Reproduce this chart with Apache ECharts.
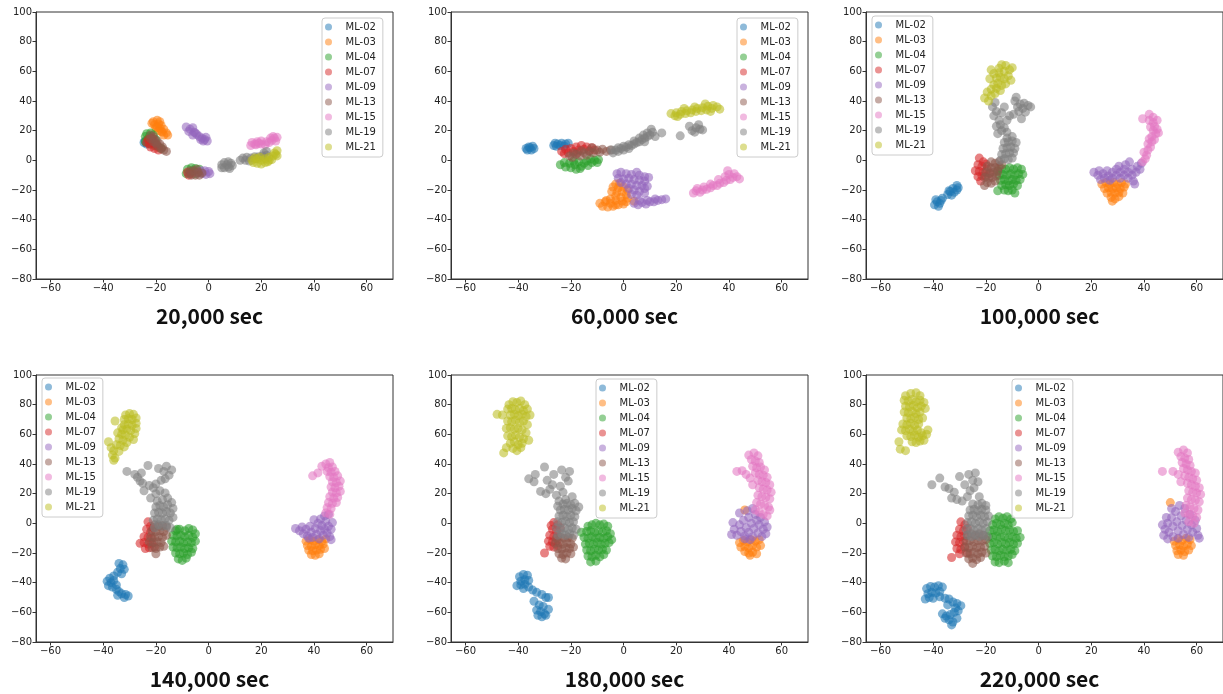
<!DOCTYPE html>
<html>
<head>
<meta charset="utf-8">
<script src="https://cdn.jsdelivr.net/npm/echarts@6/dist/echarts.min.js"></script>
<style>html,body{margin:0;padding:0;background:#fff;}#chart{width:1223px;height:694px;}</style>
</head>
<body>
<div id="chart"></div>
<script>
// ---------- labels ----------
const seriesNames = ['ML-02','ML-03','ML-04','ML-07','ML-09','ML-13','ML-15','ML-19','ML-21'];
const seriesColors = ['#1f77b4','#ff7f0e','#2ca02c','#d62728','#9467bd','#8c564b','#e377c2','#7f7f7f','#bcbd22'];
const panelTitles = ['20,000 sec','60,000 sec','100,000 sec','140,000 sec','180,000 sec','220,000 sec'];
const xTicks = [-60,-40,-20,0,20,40,60];
const yTicks = [-80,-60,-40,-20,0,20,40,60,80,100];

// ---------- 20,000 sec ----------
const s20_02 = [[-24,13],[-23.5,11],[-23,14],[-22,12],[-24.5,12]];
const s20_03 = [[-21,26],[-19.5,27],[-18.5,26],[-20.5,24],[-19,24.5],[-18,23.5],[-20,22],[-18.5,21.5],[-17,21],[-19,20],[-17.5,19],[-16,18.5],[-17,17],[-15.5,17],[-21.5,25],[-19.5,22.5],[-18,19.5]];
const s20_04 = [[-23.5,18],[-22,18.5],[-24,16],[-22.5,16],[-21,17],[-23,14],[-21.5,13.5],[-20,14],[-22,11],[-20.5,10],[-19,9],[-18,8],[-24,12.5],[-8,-6],[-6.5,-5],[-5,-5.5],[-3.5,-6],[-7,-8],[-8.5,-9],[-5,-9],[-6,-7]];
const s20_07 = [[-23,14],[-22.5,11],[-21,12],[-22,9],[-20.5,8],[-21.5,15],[-23.5,12],[-20,10.5],[-19,7],[-8,-8],[-7.5,-10],[-6.5,-9]];
const s20_09 = [[-8.5,22.5],[-7,21],[-6,22],[-7.5,19.5],[-5.5,19],[-4.5,17.5],[-6,17],[-3.5,16],[-2.5,15],[-1.5,14],[-0.5,13],[-3,14],[-1,15.5],[-5,18.5],[-2,13],[-3,-7],[-1.5,-7],[0,-7.5],[0.5,-9],[-1,-9.5],[-2.5,-9],[-4,-8.5]];
const s20_13 = [[-22,17],[-21,16],[-20.5,14],[-19.5,13],[-21,12.5],[-18.5,11],[-19.5,10],[-17.5,9],[-17,7],[-16,6],[-18,8],[-22,14.5],[-20,11.5],[-7,-7],[-5.5,-7],[-4,-8],[-6.5,-10],[-5,-10],[-3.5,-10],[-4.5,-6],[-7.5,-9],[-2.5,-8.5]];
const s20_15 = [[16,10],[16.5,12],[18,10.5],[18.5,12.5],[20,11],[20,13],[21.5,10.5],[22,12.5],[19,11.5],[17.5,11],[23,12],[24,13.5],[25,15],[23.5,15],[25.5,13],[26,15.5],[24.5,16]];
const s20_19 = [[5,-3],[6,-1.5],[7.5,-1],[8.5,-2],[9,-3.5],[7.5,-4.5],[6,-5],[5,-5],[7,-3],[8,-5.5],[12,0],[13,1.5],[14.5,2],[14,0],[16,1.5],[17.5,2.5],[19,2.5],[20.5,3],[22,3.5],[18,1],[21,5],[22,6],[15.5,-0.5]];
const s20_21 = [[16.5,0],[17,-1.5],[18.5,1],[18.5,-2],[20,0],[20,-2.5],[21.5,1],[21.5,-1.5],[23,2],[23,0],[24.5,3],[24,0.5],[25,5],[26,6.5],[25.5,4],[19.5,2],[22.5,-1],[17.5,1.5],[26,3]];

// ---------- 60,000 sec ----------
const s60_02 = [[-36.5,7],[-35.5,8.5],[-34.5,9.5],[-36,9],[-35,7],[-34,8],[-37,8],[-26.5,10],[-25,11],[-23.5,11.5],[-22,11],[-21,11.5],[-25.5,9.5],[-24,10],[-22.5,9.5],[-26,11.5]];
const s60_03 = [[-3,-16],[-1.5,-15.5],[-4,-18],[-2,-18.5],[0,-18],[1.5,-20],[-4.5,-21],[-2.5,-21.5],[-0.5,-21],[1,-23],[-3,-24],[-1,-25],[1.5,-25.5],[-5,-26],[-3,-27],[-0.5,-27.5],[1,-28],[-7,-28],[-5,-29],[-3,-30],[-9,-29],[-8,-31],[-6,-31.5],[-4,-31],[-2,-30],[0,-29.5],[-6.5,-27],[4,-27.5]];
const s60_04 = [[-24,-3],[-22.5,-1.5],[-22,-4.5],[-20.5,-2],[-20,-5],[-18.5,-3],[-18,-6],[-17,-1],[-16,-4],[-15,-2],[-14,-0.5],[-13.5,-3.5],[-12,-1.5],[-11,0],[-10,-1.5],[-9.5,0.5],[-19,-0.5],[-16.5,-5.5],[-12.5,1]];
const s60_07 = [[-23.5,6],[-22,7.5],[-21,5],[-20,8],[-19,6],[-18,9],[-17,7],[-16,10],[-15,7.5],[-14,9],[-13,6.5],[-12,8.5],[-11,7],[-22.5,4.5],[-17.5,5]];
const s60_09 = [[-2.5,-9],[-1,-8],[1,-9],[3,-9.5],[5,-8],[6,-10],[8,-11],[9.5,-11.5],[-2,-12],[0,-12.5],[2,-12],[4,-13],[6,-13.5],[8,-14],[-1,-15],[1,-16],[3,-16],[5,-17],[7,-17],[9,-17.5],[2,-19],[4,-20],[6,-21],[8,-19],[3,-23],[5,-23.5],[8,-22],[4,-29],[5.5,-30],[7,-28.5],[8.5,-29.5],[10,-28],[11.5,-28],[13,-27],[14.5,-26.5],[16,-26],[6,-27],[9,-27],[12,-26]];
const s60_13 = [[-20.5,3],[-19.5,2],[-18,4],[-16.5,3],[-15,5],[-14,3.5],[-13,6],[-11.5,5],[-10,7],[-9,5.5],[-8,7.5],[-6.5,6],[-5,7],[-12,8.5],[-19,5],[-16,6.5]];
const s60_15 = [[26.5,-22],[27.5,-20.5],[29,-21.5],[30,-20],[31.5,-19.5],[33,-18.5],[34,-17],[35.5,-17],[36.5,-15.5],[38,-15],[39,-13.5],[40.5,-13],[41.5,-11.5],[43,-11],[42,-9],[40,-9.5],[38.5,-11],[36,-13],[33,-16],[30.5,-18],[28,-19],[44,-12.5],[39.5,-7]];
const s60_19 = [[-4,5],[-3,7],[-2,6],[-1,8],[0,7],[1,9],[2,8],[3,10],[4,11],[5,12],[6,12.5],[7,14],[8,15],[9,16],[10,17],[11,19],[10.5,21],[9,18.5],[6,15],[4,13],[2,10.5],[0,9.5],[-2,8.5],[12,16],[8,12.5],[-4.5,7],[7.5,17],[14.5,18.5],[21.5,16.5],[26,20],[27.5,22],[29,21],[25,23],[28.5,24],[30,20.5],[27,19]];
const s60_21 = [[18,31.5],[19.5,30],[20,32],[21.5,31],[22,33],[23.5,31.5],[24,33.5],[25.5,32],[26,34],[27.5,33],[28,35],[29.5,33.5],[30,35.5],[31.5,34],[32,36.5],[33.5,35],[34,37],[35.5,36],[36.5,34.5],[31,38],[27,36],[23,35],[20.5,29.5],[33,33]];

// ---------- 100,000 sec ----------
const s100_02 = [[-39.5,-30],[-38.5,-28],[-38,-31],[-37,-27],[-37.5,-29],[-36.5,-25.5],[-39,-26.5],[-34.5,-23],[-33.5,-21],[-33,-23.5],[-32.5,-19],[-32,-21.5],[-31,-17],[-31,-20],[-34,-20.5],[-30.5,-18.5]];
const s100_03 = [[24,-16],[25.5,-15],[27,-16],[28.5,-15],[30,-16],[31.5,-15],[33,-16],[25,-19],[26.5,-18.5],[28,-19],[29.5,-18.5],[31,-19],[32.5,-18],[26,-22],[27.5,-21.5],[29,-22],[30.5,-21.5],[32,-22],[27.5,-25],[29,-26],[30.5,-24.5],[28,-27.5]];
const s100_04 = [[-15.5,-7],[-14,-5.5],[-12.5,-6],[-11,-5],[-9.5,-6],[-8,-5],[-6.5,-6],[-15,-10],[-13.5,-9.5],[-12,-10],[-10.5,-9],[-9,-10],[-7.5,-9],[-6,-9.5],[-14.5,-13.5],[-13,-13],[-11.5,-14],[-10,-13],[-8.5,-13.5],[-7,-13],[-14,-17],[-12.5,-16.5],[-11,-17],[-9.5,-16],[-8,-17],[-13,-20],[-11.5,-20.5],[-10,-20],[-15.5,-20.5],[-9,-22]];
const s100_07 = [[-22.5,1.5],[-21,-1],[-23,-3],[-21.5,-4],[-20,-2.5],[-24,-7],[-22.5,-7.5],[-21,-8],[-19.5,-6],[-23,-11],[-21.5,-10.5],[-20,-11],[-22,-14],[-18.5,-9]];
const s100_09 = [[21,-8],[22.5,-10],[23,-7],[24.5,-9],[25,-12],[26,-7],[26.5,-10.5],[28,-8],[28,-12],[29.5,-6],[29.5,-10],[31,-8],[31,-12],[32.5,-6],[32.5,-10],[34,-8],[34,-12],[35.5,-6],[35.5,-10],[36,-14],[37,-8],[37.5,-4],[38.5,-6],[39,-2],[36.5,-16],[33,-3],[30.5,-4],[34.5,-1],[27,-13.5],[23.5,-13]];
const s100_13 = [[-18,-1],[-16.5,-2],[-15,-1],[-19.5,-4],[-18,-5],[-16.5,-5],[-15,-4.5],[-14,-3],[-20,-8],[-18.5,-8.5],[-17,-8],[-15.5,-7.5],[-20.5,-11.5],[-19,-12],[-17.5,-11.5],[-16,-10.5],[-19.5,-15],[-18,-15.5],[-16.5,-14],[-20.5,-17]];
const s100_15 = [[39.5,-1],[40.5,1],[41,3.5],[40,5.5],[41.5,7],[42.5,9],[41.5,11],[43,12.5],[44,14],[43,16],[44.5,18],[43.5,20],[45,21],[44,23],[42.5,22.5],[43.5,25.5],[42,27],[43.5,29],[42,31],[39.5,28],[45.5,18.5],[42,14.5],[45,27]];
const s100_19 = [[-14.5,0],[-13,1],[-11.5,0.5],[-10,1.5],[-14,4],[-12.5,4.5],[-11,5],[-9.5,5],[-13.5,8],[-12,8.5],[-10.5,9],[-9,8],[-13,12],[-11.5,12.5],[-10,13],[-8.5,12],[-12,15],[-10,16],[-15.5,18],[-14,20],[-12,19],[-16,23],[-14.5,24],[-13,22],[-15,27],[-17,30],[-16,33],[-14,32],[-17.5,36],[-16.5,39],[-13,36],[-11,30],[-12,27],[-9,40],[-8,36],[-7,38],[-6,35],[-5.5,38.5],[-4,37],[-3,36],[-7.5,33],[-5,32.5],[-9.5,31],[-6.5,28],[-8.5,42.5]];
const s100_21 = [[-20.5,42],[-19,40],[-18,43.5],[-16.5,45],[-19.5,46],[-18,48],[-16,48.5],[-14.5,47],[-17,51],[-15.5,52],[-14,50.5],[-12.5,51.5],[-18.5,55],[-16,55.5],[-14.5,56],[-13,55],[-11.5,57],[-17,58.5],[-15,59],[-13,60],[-11,61],[-15,62],[-12.5,64],[-10,62.5],[-14,64.5],[-18,61],[-10.5,54]];

// ---------- 140,000 sec ----------
const s140_02 = [[-34,-27],[-32.5,-28],[-33.5,-30.5],[-32,-31],[-34.5,-33],[-33,-34],[-36,-35.5],[-37.5,-37],[-38.5,-39],[-37,-40],[-36,-38.5],[-38,-42],[-36.5,-43],[-35,-44.5],[-34,-46],[-33,-47.5],[-31.5,-48],[-30.5,-49],[-32,-50],[-34.5,-48.5],[-35,-41.5]];
const s140_03 = [[37,-12],[38.5,-11],[40,-12],[41.5,-11],[43,-12],[44.5,-10.5],[37.5,-15],[39,-15.5],[40.5,-14.5],[42,-15],[43.5,-14],[38,-18],[39.5,-18.5],[41,-18],[42.5,-17.5],[44,-17],[39,-21],[40.5,-21.5],[42,-20.5]];
const s140_04 = [[-12.5,-5],[-11,-4],[-9,-5],[-7.5,-3.5],[-6,-4.5],[-5,-7],[-13.5,-8],[-12,-8.5],[-10.5,-8],[-9,-9],[-7.5,-8],[-6,-9.5],[-14,-12],[-12.5,-12.5],[-11,-12],[-9.5,-13],[-8,-12.5],[-6.5,-13],[-5,-12],[-13.5,-16],[-12,-16.5],[-10.5,-16],[-9,-17],[-7.5,-16.5],[-6,-17],[-12.5,-20],[-11,-20.5],[-9.5,-20],[-8,-21],[-6.5,-19.5],[-11.5,-24],[-10,-25],[-8.5,-23.5],[-12,-4]];
const s140_07 = [[-23,1],[-22,-2],[-23.5,-4],[-22,-6],[-24.5,-9],[-23,-9.5],[-21.5,-10],[-26,-13.5],[-24.5,-13],[-23,-14],[-21.5,-13.5],[-24,-17],[-22.5,-16.5],[-20.5,-16],[-21,-3]];
const s140_09 = [[33,-3.5],[34.5,-5],[35.5,-2.5],[36,-7],[37,-4],[37.5,-8.5],[38.5,-2],[39,-6],[39.5,-9.5],[40.5,-3.5],[41,-7.5],[41.5,0],[42,-10.5],[42.5,-5],[43,-1.5],[43.5,-8],[44,-4],[44.5,1.5],[45,-6.5],[45.5,-2],[46,-9],[46.5,-4],[47,0.5],[44,5],[42.5,3],[45.5,6],[46.5,-11],[40,2.5],[38,-10]];
const s140_13 = [[-20.5,-1],[-19,-2],[-17.5,-1.5],[-16,-2.5],[-21.5,-5],[-20,-5.5],[-18.5,-5],[-17,-5.5],[-22,-9],[-20.5,-9.5],[-19,-9],[-17.5,-9.5],[-16,-8],[-22.5,-12.5],[-21,-13],[-19.5,-12.5],[-18,-13],[-21.5,-16.5],[-20,-17],[-18.5,-16],[-20,-20.5],[-17,-15.5]];
const s140_15 = [[43,38.5],[44.5,40],[46,41],[45.5,37.5],[47,38],[45,35],[46.5,34.5],[48,35],[46,31.5],[47.5,31],[49,32],[47,28],[48.5,27.5],[50,28.5],[46.5,24.5],[48,24],[49.5,25],[47,21],[48.5,20.5],[50,21.5],[46,18],[47.5,17],[49,17.5],[45.5,14],[47,13.5],[48.5,14],[45,10.5],[46.5,10],[44.5,7],[46,6],[39.5,32],[41.5,34]];
const s140_19 = [[-20.5,-3],[-19,-1],[-17.5,-2],[-16,-1.5],[-14.5,-3],[-21,2],[-19.5,3],[-18,2.5],[-16.5,3],[-15,2],[-13.5,4],[-20.5,7],[-19,7.5],[-17.5,7],[-16,8],[-14.5,7],[-13.5,10],[-20,11],[-18.5,12],[-17,11],[-15.5,12.5],[-14,14],[-19.5,15],[-17.5,16],[-15.5,17],[-22,17],[-20,20],[-21,24],[-18.5,22],[-16.5,20.5],[-22.5,25.5],[-25,27],[-27,31],[-26,28.5],[-28,33],[-25.5,34],[-23,39],[-19,37],[-17,35],[-15,32.5],[-16.5,30],[-18,29],[-20,26.5],[-14,36],[-16,38.5],[-31,35],[-24.5,22]];
const s140_21 = [[-31.5,73],[-30,74],[-28.5,73.5],[-27.5,71],[-32,70],[-30.5,70.5],[-29,70],[-27.5,67.5],[-32,66.5],[-30.5,67],[-29,66],[-27.5,64],[-32.5,63],[-31,63.5],[-29.5,62.5],[-28,60.5],[-33,60],[-31.5,59.5],[-30,58],[-28.5,56.5],[-34,57],[-32.5,56],[-31,54.5],[-35,53],[-33.5,52.5],[-32,51.5],[-37,51],[-36,49],[-34,48.5],[-36.5,46],[-35.5,44],[-36,42.5],[-38,55],[-35.5,69],[-33,64.5],[-34.5,61]];

// ---------- 180,000 sec ----------
const s180_02 = [[-39.5,-36],[-38,-34.5],[-36.5,-35],[-39,-39],[-37.5,-38],[-36,-38.5],[-40.5,-42],[-39,-41.5],[-37.5,-41],[-38,-44],[-36,-43],[-34.5,-45],[-33,-46.5],[-31,-48],[-29.5,-50],[-28.5,-50],[-34,-52.5],[-32,-55],[-30.5,-56],[-28.5,-58],[-33,-58.5],[-31.5,-59.5],[-30,-61],[-32.5,-62],[-31,-63],[-29.5,-62]];
const s180_03 = [[44,-13],[45.5,-11.5],[47,-12.5],[48.5,-11],[50,-12],[51.5,-11],[44.5,-16],[46,-15.5],[47.5,-16.5],[49,-15],[50.5,-16],[52,-15],[46,-19],[47.5,-20],[49,-19.5],[50.5,-20.5],[48,-21.5],[46,9]];
const s180_04 = [[-13.5,-2],[-12,-1],[-10.5,0],[-9,-1],[-7.5,-0.5],[-6,-2],[-14,-5.5],[-12.5,-5],[-11,-6],[-9.5,-5],[-8,-6],[-6.5,-5],[-5,-7],[-15,-9.5],[-13.5,-10],[-12,-9],[-10.5,-10],[-9,-9.5],[-7.5,-10],[-6,-9],[-14.5,-14],[-13,-13.5],[-11.5,-14],[-10,-13],[-8.5,-14],[-7,-13.5],[-5.5,-13],[-14,-18],[-12.5,-18.5],[-11,-17.5],[-9.5,-18],[-8,-17.5],[-6.5,-18],[-13.5,-22],[-12,-22.5],[-10.5,-21.5],[-9,-22.5],[-7.5,-21],[-12.5,-26],[-10.5,-25.5],[-16,-6],[-4.5,-11]];
const s180_07 = [[-26.5,0.5],[-25,-1],[-27,-4],[-25.5,-5],[-28,-8],[-26.5,-9],[-25,-8.5],[-28.5,-12],[-27,-12.5],[-25.5,-12],[-28,-15.5],[-26.5,-16],[-25,-15],[-30,-20],[-24,-3],[-27.5,-1.5]];
const s180_09 = [[42,-4],[41,-7.5],[43,-8],[44,-1],[44.5,-5.5],[45.5,2],[46,-8.5],[46.5,-3],[47.5,4],[47.5,-6],[48.5,0],[49,-9],[49.5,-3.5],[50,6],[50.5,2],[51,-6.5],[51.5,-1],[52,4],[52.5,-9],[53,-4],[53.5,1],[54,-7],[44,7],[47,8.5],[49,10],[46,-10.5],[54.5,-2.5],[41.5,0.5],[48,-11]];
const s180_13 = [[-25.5,-10],[-24,-9],[-22.5,-10],[-21,-9.5],[-19.5,-10],[-26,-13.5],[-24.5,-13],[-23,-14],[-21.5,-13],[-20,-14],[-25,-17],[-23.5,-17.5],[-22,-16.5],[-20.5,-17],[-19,-16],[-24.5,-20.5],[-23,-21],[-21.5,-20],[-20,-20.5],[-23.5,-23.5],[-22,-24]];
const s180_15 = [[47.5,46],[49.5,47.5],[51,45.5],[48.5,43],[50,42],[51.5,41],[49,38.5],[50.5,37.5],[52,38],[53.5,36],[50,34],[51.5,33],[53,32.5],[54.5,31],[51,29],[52.5,28],[54,27.5],[55.5,26],[51.5,24],[53,23],[54.5,22.5],[56,21],[51,19],[52.5,18],[54,17.5],[55.5,16.5],[50.5,14],[52,13],[53.5,12],[55,11],[50,9],[51.5,7.5],[53,6],[54.5,5],[43,35],[45,35.5],[46.5,33],[48,30.5],[49,26],[55.5,9]];
const s180_19 = [[-25,-8],[-23.5,-7],[-22,-8],[-20.5,-7],[-19,-8],[-25.5,-3],[-24,-4],[-22.5,-3],[-21,-4],[-19.5,-3],[-18,-4],[-25,1],[-23.5,0.5],[-22,1.5],[-20.5,0.5],[-19,1],[-24.5,5],[-23,5.5],[-21.5,4.5],[-20,5.5],[-18.5,4.5],[-24,9],[-22.5,9.5],[-21,9],[-19.5,10],[-18,8.5],[-23,13],[-21.5,13.5],[-20,12.5],[-18.5,13.5],[-24.5,15],[-17,11],[-22,16],[-25,11.5],[-36,30],[-33.5,33],[-30,38],[-31.5,21.5],[-29.5,20],[-28,23],[-26.5,33],[-23.5,36],[-22,31],[-21,28.5],[-20.5,35],[-24,25],[-25.5,19],[-27,26],[-34,28],[-29,29],[-23,21],[-19.5,18]];
const s180_21 = [[-43.5,80],[-42,82],[-40.5,81.5],[-39,82.5],[-37.5,80],[-44,77],[-42.5,77.5],[-41,76.5],[-39.5,77.5],[-38,76],[-36.5,77],[-43,73],[-41.5,73.5],[-40,72.5],[-38.5,73.5],[-37,72],[-35.5,73],[-48,73.5],[-46,73],[-44,69],[-42.5,68.5],[-41,69.5],[-39.5,68],[-38,69],[-36.5,66.5],[-44.5,64],[-43,64.5],[-41.5,63.5],[-40,64],[-38.5,63],[-37,61],[-44,59],[-42.5,58.5],[-41,59.5],[-39.5,58],[-38,57],[-43,54],[-41.5,55],[-40,53],[-38.5,54],[-44.5,51],[-42,50.5],[-40.5,49],[-45.5,47.5],[-39,51],[-36,56]];

// ---------- 220,000 sec ----------
const s220_02 = [[-42.5,-44],[-41,-42.5],[-39.5,-43],[-38,-42],[-36.5,-43],[-42,-47.5],[-40.5,-46.5],[-39,-47],[-37.5,-46],[-43,-51],[-41.5,-50],[-40,-50.5],[-37.5,-49.5],[-35.5,-50.5],[-34,-51],[-32.5,-53],[-31,-54],[-29.5,-55.5],[-31.5,-57],[-34.5,-55],[-36.5,-61],[-35,-62.5],[-33.5,-61.5],[-32,-60],[-30.5,-59],[-34,-65],[-32.5,-66.5],[-31,-64],[-33,-68.5],[-35.5,-64]];
const s220_03 = [[51.5,-12],[53,-10.5],[54.5,-11.5],[56,-10],[57.5,-11],[52,-15],[53.5,-14.5],[55,-15.5],[56.5,-14],[58,-15],[52.5,-18.5],[54,-18],[55.5,-19],[57,-18],[53,-21],[55,-21.5],[50,14]];
const s220_04 = [[-16.5,3],[-15,4.5],[-13.5,3.5],[-12,4.5],[-10.5,3],[-17.5,-1],[-16,0],[-14.5,-1],[-13,0],[-11.5,-1],[-10,0.5],[-18.5,-5],[-17,-4.5],[-15.5,-5.5],[-14,-4],[-12.5,-5],[-11,-4.5],[-9.5,-5.5],[-19,-9],[-17.5,-9.5],[-16,-8.5],[-14.5,-9.5],[-13,-9],[-11.5,-10],[-10,-9],[-8.5,-10],[-7,-9.5],[-18.5,-13.5],[-17,-13],[-15.5,-14],[-14,-13],[-12.5,-14],[-11,-13],[-9.5,-14],[-8,-13.5],[-18,-18],[-16.5,-17.5],[-15,-18.5],[-13.5,-17.5],[-12,-18],[-10.5,-17.5],[-9,-18.5],[-17.5,-22],[-16,-22.5],[-14.5,-21.5],[-13,-22.5],[-11.5,-22],[-10,-21],[-16.5,-26],[-15,-26.5],[-13,-25.5],[-11.5,-26.5],[-8,-5]];
const s220_07 = [[-29.5,1],[-28,-1],[-30,-4],[-28.5,-5],[-27,-3.5],[-31,-8],[-29.5,-9],[-28,-8.5],[-31.5,-12.5],[-30,-13],[-28.5,-12],[-31,-17],[-29.5,-17.5],[-28,-16],[-33,-23],[-30,-20.5],[-27,-20]];
const s220_09 = [[48,-4],[47.5,-8],[49,0],[49.5,-6],[50.5,4],[51,-2],[51,-9],[52,8],[52.5,1],[53,-5],[53,-10],[54,5],[54.5,-1.5],[55,-7.5],[55.5,10],[56,2],[56.5,-4],[57,-9.5],[57.5,6],[58,-1],[58.5,-6],[59.5,2],[60,-3.5],[60.5,-8],[48.5,4],[50.5,10],[53.5,12],[49,-10.5],[61,-10],[47,-1]];
const s220_13 = [[-27,-8],[-25.5,-7],[-24,-8],[-22.5,-7],[-21,-8],[-27.5,-12],[-26,-11.5],[-24.5,-12.5],[-23,-11.5],[-21.5,-12],[-20,-11],[-28,-16],[-26.5,-16.5],[-25,-15.5],[-23.5,-16.5],[-22,-16],[-20.5,-15.5],[-27.5,-20],[-26,-20.5],[-24.5,-19.5],[-23,-20.5],[-21.5,-19.5],[-20,-20],[-26.5,-24],[-25,-23.5],[-23.5,-24.5],[-22,-23],[-25,-27]];
const s220_15 = [[53,48],[55,49.5],[56.5,47.5],[54,45],[55.5,44],[57,43],[54.5,41],[56,40],[57.5,39],[55,37],[56.5,36],[58,35],[59.5,34],[55.5,32],[57,31],[58.5,30],[60,29],[56.5,27],[58,26],[59.5,25],[61,24],[57,22],[58.5,21],[60,20.5],[61.5,19.5],[56.5,17],[58,16],[59.5,15.5],[61,14.5],[56,12],[57.5,11],[59,10],[60.5,9],[55.5,7],[57,6],[58.5,5],[60,4],[47,35],[51,35],[53,33],[54,28],[57,1],[59,0]];
const s220_19 = [[-27,-8],[-25.5,-9],[-24,-8],[-22.5,-9],[-21,-8],[-19.5,-9],[-27.5,-4],[-26,-3.5],[-24.5,-4.5],[-23,-3.5],[-21.5,-4.5],[-20,-3.5],[-27,0.5],[-25.5,1],[-24,0],[-22.5,1],[-21,0],[-19.5,1],[-26.5,5],[-25,5.5],[-23.5,4.5],[-22,5.5],[-20.5,4.5],[-19,5],[-26,9],[-24.5,9.5],[-23,8.5],[-21.5,9.5],[-20,9],[-25,13],[-23,12.5],[-21.5,13.5],[-20,12],[-40.5,26],[-37.5,30.5],[-35.5,24.5],[-34,23.5],[-33,17],[-31,16],[-29,15],[-30,31.5],[-26.5,33],[-25,29],[-24,34],[-24.5,24],[-26,22],[-28,26],[-27,18],[-32,21],[-22.5,18],[-23,28]];
const s220_21 = [[-50.5,86],[-48.5,87.5],[-46.5,88],[-45,86],[-51,83],[-49.5,82.5],[-48,83.5],[-46.5,82],[-45,83],[-43.5,81.5],[-50.5,79],[-49,78.5],[-47.5,79.5],[-46,78],[-44.5,79],[-43,77.5],[-51,75],[-49.5,74.5],[-48,75.5],[-46.5,74],[-45,75],[-50,71],[-48.5,70.5],[-47,71.5],[-45.5,70],[-44,71],[-51.5,67],[-50,66.5],[-48.5,67.5],[-47,66],[-45.5,67],[-52,63],[-50.5,62.5],[-49,63.5],[-47.5,62],[-46,63],[-44.5,61],[-50,59],[-48.5,58.5],[-47,59.5],[-45.5,58],[-44,59],[-42.5,60],[-48,55],[-46.5,54.5],[-45,55.5],[-43.5,56],[-52.5,50],[-50.5,49],[-53,55],[-42,63]];

// ---------- assemble ----------
const panelData = [
  [s20_02, s20_03, s20_04, s20_07, s20_09, s20_13, s20_15, s20_19, s20_21],
  [s60_02, s60_03, s60_04, s60_07, s60_09, s60_13, s60_15, s60_19, s60_21],
  [s100_02, s100_03, s100_04, s100_07, s100_09, s100_13, s100_15, s100_19, s100_21],
  [s140_02, s140_03, s140_04, s140_07, s140_09, s140_13, s140_15, s140_19, s140_21],
  [s180_02, s180_03, s180_04, s180_07, s180_09, s180_13, s180_15, s180_19, s180_21],
  [s220_02, s220_03, s220_04, s220_07, s220_09, s220_13, s220_15, s220_19, s220_21]
];

const gridLeft = [36, 451, 866, 36, 451, 866];
const gridTop = [12, 12, 12, 375, 375, 375];
const GW = 357, GH = 267;
const legendLeft = [322, 737, 872, 42, 596, 1012];
const legendTop = [18, 18, 16, 378, 379, 379];
const titleTop = [306, 306, 306, 669, 669, 669];
const titleShift = -5;

const fmt = v => (v < 0 ? '\u2212' + Math.abs(v) : String(v));
const rgba = (hex, a) => 'rgba(' + parseInt(hex.slice(1,3),16) + ',' + parseInt(hex.slice(3,5),16) + ',' + parseInt(hex.slice(5,7),16) + ',' + a + ')';
const axisColor = '#333';
const labelStyle = { fontSize: 10, color: '#222', fontFamily: 'DejaVu Sans' };

const grids = [], xAxes = [], yAxes = [], series = [], legends = [], titles = [];
for (let p = 0; p < 6; p++) {
  grids.push({ left: gridLeft[p], top: gridTop[p], width: GW, height: GH, show: true, borderColor: axisColor, borderWidth: 1, backgroundColor: '#fff' });
  xAxes.push({
    type: 'value', gridIndex: p, min: -65.5, max: 70,
    splitLine: { show: false },
    axisLine: { show: true, onZero: false, lineStyle: { color: axisColor, width: 1 } },
    axisTick: { show: true, length: 3.5, customValues: xTicks, lineStyle: { color: axisColor } },
    axisLabel: Object.assign({ customValues: xTicks, margin: 4, formatter: fmt }, labelStyle)
  });
  yAxes.push({
    type: 'value', gridIndex: p, min: -80, max: 100, interval: 20,
    splitLine: { show: false },
    axisLine: { show: true, onZero: false, lineStyle: { color: axisColor, width: 1 } },
    axisTick: { show: true, length: 3.5, customValues: yTicks, lineStyle: { color: axisColor } },
    axisLabel: Object.assign({ customValues: yTicks, margin: 4, formatter: fmt }, labelStyle)
  });
  for (let s = 0; s < 9; s++) {
    series.push({
      type: 'scatter', name: seriesNames[s], xAxisIndex: p, yAxisIndex: p,
      data: panelData[p][s], symbol: 'circle', symbolSize: 9,
      itemStyle: { color: rgba(seriesColors[s], 0.72) },
      silent: true, animation: false
    });
  }
  legends.push({
    data: seriesNames, orient: 'vertical', left: legendLeft[p], top: legendTop[p],
    itemWidth: 20, itemHeight: 7, itemGap: 3, icon: 'circle',
    padding: [3, 7, 4, 3],
    backgroundColor: 'rgba(255,255,255,0.8)', borderColor: '#cccccc', borderWidth: 1, borderRadius: 3,
    selectedMode: false,
    itemStyle: { opacity: 0.7 },
    textStyle: { fontSize: 10, fontFamily: 'DejaVu Sans', color: '#222', lineHeight: 12, padding: [0, 0, 0, 2] }
  });
  titles.push({
    text: panelTitles[p], left: gridLeft[p] + GW / 2 + titleShift, top: titleTop[p], textAlign: 'center', padding: 0,
    textStyle: { fontSize: 21, fontWeight: 'bold', fontFamily: '"Noto Sans CJK KR", "DejaVu Sans", sans-serif', color: '#111' }
  });
}

const chart = echarts.init(document.getElementById('chart'), null, { renderer: 'canvas' });
chart.setOption({
  backgroundColor: '#fff', animation: false,
  color: seriesColors,
  title: titles, grid: grids, xAxis: xAxes, yAxis: yAxes, legend: legends, series: series
});
</script>
</body>
</html>
